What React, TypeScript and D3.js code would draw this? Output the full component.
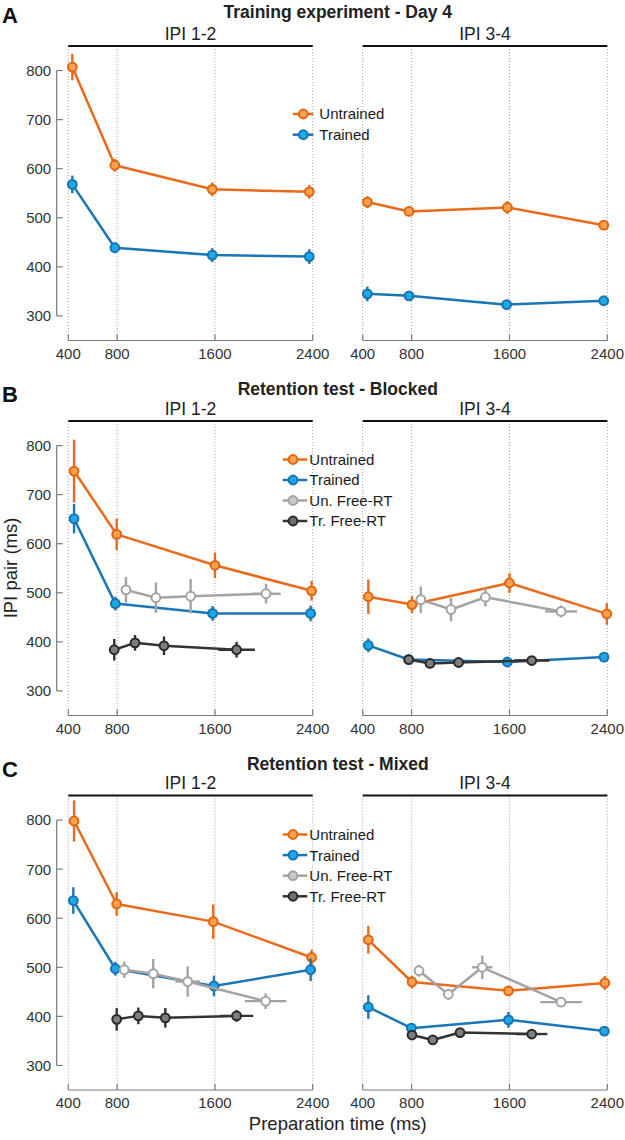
import React from 'react';
import * as d3 from 'd3';

// ---------- tick values & labels ----------
const prepTicks = [400, 800, 1600, 2400];
const ipiTicks = [300, 400, 500, 600, 700, 800];
const seriesNames = ['Untrained', 'Trained', 'Un. Free-RT', 'Tr. Free-RT'];
const panelLetters = ['A', 'B', 'C'];
const panelTitles = ['Training experiment - Day 4', 'Retention test - Blocked', 'Retention test - Mixed'];
const subLabels = ['IPI 1-2', 'IPI 3-4'];

// ---------- Panel A: Training experiment - Day 4 ----------
const aL_untrX = [433, 781, 1578, 2372];
const aL_untrY = [807, 607, 558, 553];
const aL_untrE = [27, 13, 14, 14];
const aL_trX = [433, 781, 1578, 2372];
const aL_trY = [568, 439, 424, 421];
const aL_trE = [18, 11, 14, 15];

const aR_untrX = [438, 779, 1583, 2371];
const aR_untrY = [532, 513, 521, 485];
const aR_untrE = [12, 8, 13, 7];
const aR_trX = [438, 779, 1577, 2371];
const aR_trY = [345, 341, 323, 331];
const aR_trE = [15, 8, 6, 8];

// ---------- Panel B: Retention test - Blocked ----------
const bL_untrX = [447, 796, 1600, 2391];
const bL_untrY = [748, 619, 556, 504];
const bL_untrE = [64, 32, 26, 20];
const bL_trX = [447, 785, 1581, 2383];
const bL_trY = [651, 478, 458, 458];
const bL_trE = [30, 14, 15, 16];
const bL_unFreeX = [872, 1117, 1401, 2018];
const bL_unFreeY = [506, 490, 493, 498];
const bL_unFreeE = [26, 31, 35, 20];
const bL_unFreeXE = [0, 0, 0, 120];
const bL_trFreeX = [776, 946, 1183, 1777];
const bL_trFreeY = [384, 398, 392, 384];
const bL_trFreeE = [22, 16, 19, 16];
const bL_trFreeXE = [0, 0, 0, 150];

const bR_untrX = [446, 803, 1600, 2396];
const bR_untrY = [492, 476, 520, 457];
const bR_untrE = [35, 17, 20, 22];
const bR_trX = [446, 776, 1583, 2373];
const bR_trY = [393, 364, 359, 369];
const bR_trE = [14, 8, 8, 8];
const bR_unFreeX = [875, 1122, 1403, 2022];
const bR_unFreeY = [486, 466, 491, 462];
const bR_unFreeE = [27, 24, 19, 12];
const bR_unFreeXE = [0, 0, 0, 130];
const bR_trFreeX = [776, 950, 1184, 1782];
const bR_trFreeY = [364, 356, 358, 362];
const bR_trFreeE = [8, 8, 8, 8];
const bR_trFreeXE = [0, 0, 0, 144];

// ---------- Panel C: Retention test - Mixed ----------
const cL_untrX = [447, 796, 1586, 2391];
const cL_untrY = [798, 629, 593, 520];
const cL_untrE = [42, 24, 35, 16];
const cL_trX = [441, 785, 1592, 2383];
const cL_trY = [636, 497, 462, 495];
const cL_trE = [27, 14, 21, 23];
const cL_unFreeX = [858, 1095, 1377, 2015];
const cL_unFreeY = [495, 487, 471, 431];
const cL_unFreeE = [17, 30, 31, 16];
const cL_unFreeXE = [0, 0, 100, 170];
const cL_trFreeX = [796, 973, 1194, 1777];
const cL_trFreeY = [394, 401, 397, 401];
const cL_trFreeE = [23, 17, 20, 12];
const cL_trFreeXE = [0, 0, 0, 136];

const cR_untrX = [446, 803, 1592, 2380];
const cR_untrY = [556, 470, 452, 468];
const cR_untrE = [28, 13, 10, 14];
const cR_trX = [446, 798, 1592, 2376];
const cR_trY = [419, 376, 393, 370];
const cR_trE = [24, 8, 16, 6];
const cR_unFreeX = [860, 1100, 1378, 2022];
const cR_unFreeY = [493, 445, 500, 429];
const cR_unFreeE = [12, 11, 24, 10];
const cR_unFreeXE = [0, 0, 83, 170];
const cR_trFreeX = [803, 973, 1196, 1782];
const cR_trFreeY = [362, 352, 367, 364];
const cR_trFreeE = [6, 6, 6, 6];
const cR_trFreeXE = [0, 0, 0, 128];

// ---------- styles ----------
type Style = { line: string; stroke: string; fill: string };
const styles: Style[] = [
  { line: '#E96A1C', stroke: '#E5640F', fill: '#F7A24E' },
  { line: '#1C76B6', stroke: '#1A72B3', fill: '#1AAAE8' },
  { line: '#A3A3A3', stroke: '#A3A3A3', fill: '#FFFFFF' },
  { line: '#333333', stroke: '#2A2A2A', fill: '#7E7E7E' },
];
const legendFills = ['#F7A24E', '#1AAAE8', '#C8C8C8', '#6E6E6E'];

type Series = { k: number; x: number[]; y: number[]; e: number[]; xe?: number[] };

const zero = [0, 0, 0, 0];

const panelData: Series[][][] = [
  [
    [
      { k: 0, x: aL_untrX, y: aL_untrY, e: aL_untrE },
      { k: 1, x: aL_trX, y: aL_trY, e: aL_trE },
    ],
    [
      { k: 0, x: aR_untrX, y: aR_untrY, e: aR_untrE },
      { k: 1, x: aR_trX, y: aR_trY, e: aR_trE },
    ],
  ],
  [
    [
      { k: 0, x: bL_untrX, y: bL_untrY, e: bL_untrE },
      { k: 1, x: bL_trX, y: bL_trY, e: bL_trE },
      { k: 2, x: bL_unFreeX, y: bL_unFreeY, e: bL_unFreeE, xe: bL_unFreeXE },
      { k: 3, x: bL_trFreeX, y: bL_trFreeY, e: bL_trFreeE, xe: bL_trFreeXE },
    ],
    [
      { k: 0, x: bR_untrX, y: bR_untrY, e: bR_untrE },
      { k: 1, x: bR_trX, y: bR_trY, e: bR_trE },
      { k: 2, x: bR_unFreeX, y: bR_unFreeY, e: bR_unFreeE, xe: bR_unFreeXE },
      { k: 3, x: bR_trFreeX, y: bR_trFreeY, e: bR_trFreeE, xe: bR_trFreeXE },
    ],
  ],
  [
    [
      { k: 0, x: cL_untrX, y: cL_untrY, e: cL_untrE },
      { k: 1, x: cL_trX, y: cL_trY, e: cL_trE },
      { k: 2, x: cL_unFreeX, y: cL_unFreeY, e: cL_unFreeE, xe: cL_unFreeXE },
      { k: 3, x: cL_trFreeX, y: cL_trFreeY, e: cL_trFreeE, xe: cL_trFreeXE },
    ],
    [
      { k: 0, x: cR_untrX, y: cR_untrY, e: cR_untrE },
      { k: 1, x: cR_trX, y: cR_trY, e: cR_trE },
      { k: 2, x: cR_unFreeX, y: cR_unFreeY, e: cR_unFreeE, xe: cR_unFreeXE },
      { k: 3, x: cR_trFreeX, y: cR_trFreeY, e: cR_trFreeE, xe: cR_trFreeXE },
    ],
  ],
];

// ---------- layout ----------
const W = 625;
const H = 1140;
const FONT = '"Liberation Sans", Arial, Helvetica, sans-serif';
const panelTops = [46, 421, 795.5];
const plotH = 294.5;
const titleBaselines = [17.5, 395, 770];
const letterBaselines = [23, 401.5, 776.5];
const subRanges: [number, number][] = [
  [68.3, 312.7],
  [362.7, 607.3],
];
const yAxisX = 56.7;
const legendLayout = [
  { lineX0: 292.7, lineX1: 313.3, cx: 303.3, textX: 319.3, y0: 114, dy: 20.7 },
  { lineX0: 282.7, lineX1: 307.3, cx: 293, textX: 309.3, y0: 459.5, dy: 20.5 },
  { lineX0: 282.7, lineX1: 307.3, cx: 293, textX: 309.3, y0: 834.5, dy: 20.6 },
];

const AXIS = '#7a7a7a';
const TXT = '#333333';

function SubPanel({ p, s }: { p: number; s: number }) {
  const top = panelTops[p];
  const x = d3.scaleLinear().domain([400, 2400]).range(subRanges[s]);
  const y = d3.scaleLinear().domain([250, 850]).range([top + plotH, top]);
  const axisY = y(250);
  const line = d3
    .line<[number, number]>()
    .x((d) => x(d[0]))
    .y((d) => y(d[1]));
  const series = panelData[p][s];
  return (
    <g>
      {/* dotted grid */}
      {prepTicks.map((t) => (
        <line
          key={'g' + t}
          x1={x(t)}
          x2={x(t)}
          y1={top}
          y2={axisY}
          stroke="#8c8c8c"
          strokeWidth={0.8}
          strokeDasharray="1,2"
        />
      ))}
      {/* header bar */}
      <line x1={x(400)} x2={x(2400)} y1={top} y2={top} stroke="#111" strokeWidth={2} />
      <text
        x={(x(400) + x(2400)) / 2}
        y={top - 6.3}
        textAnchor="middle"
        fontSize={17.5}
        fill="#222"
        fontFamily={FONT}
      >
        {subLabels[s]}
      </text>
      {/* x axis */}
      <line x1={x(400)} x2={x(2400)} y1={axisY} y2={axisY} stroke={AXIS} strokeWidth={1.2} />
      {prepTicks.map((t) => (
        <g key={'t' + t}>
          <line x1={x(t)} x2={x(t)} y1={axisY} y2={axisY - 6} stroke={AXIS} strokeWidth={1.2} />
          <text
            x={x(t)}
            y={axisY + 18}
            textAnchor="middle"
            fontSize={15}
            fill={TXT}
            fontFamily={FONT}
          >
            {t}
          </text>
        </g>
      ))}
      {/* y axis, only on left sub-panel */}
      {s === 0 && (
        <g>
          <line x1={yAxisX} x2={yAxisX} y1={y(300)} y2={y(800)} stroke={AXIS} strokeWidth={1.2} />
          {ipiTicks.map((t) => (
            <g key={'y' + t}>
              <line x1={yAxisX} x2={yAxisX + 6} y1={y(t)} y2={y(t)} stroke={AXIS} strokeWidth={1.2} />
              <text
                x={yAxisX - 5.5}
                y={y(t)}
                dy="0.36em"
                textAnchor="end"
                fontSize={15}
                fill={TXT}
                fontFamily={FONT}
              >
                {t}
              </text>
            </g>
          ))}
        </g>
      )}
      {/* series */}
      {series.map((sr) => {
        const st = styles[sr.k];
        const pts = sr.x.map((v, i) => [v, sr.y[i]] as [number, number]);
        const xe = sr.xe || zero;
        return (
          <g key={'s' + sr.k}>
            {pts.map((d, i) => (
              <g key={'e' + i}>
                <line
                  x1={x(d[0])}
                  x2={x(d[0])}
                  y1={y(d[1] - sr.e[i])}
                  y2={y(d[1] + sr.e[i])}
                  stroke={st.line}
                  strokeWidth={2.4}
                />
                {xe[i] > 0 && (
                  <line
                    x1={x(d[0] - xe[i])}
                    x2={x(d[0] + xe[i])}
                    y1={y(d[1])}
                    y2={y(d[1])}
                    stroke={st.line}
                    strokeWidth={2.4}
                  />
                )}
              </g>
            ))}
            <path d={line(pts) || ''} fill="none" stroke={st.line} strokeWidth={2.5} strokeLinejoin="round" />
            {pts.map((d, i) => (
              <circle
                key={'c' + i}
                cx={x(d[0])}
                cy={y(d[1])}
                r={4.4}
                fill={st.fill}
                stroke={st.stroke}
                strokeWidth={2}
              />
            ))}
          </g>
        );
      })}
    </g>
  );
}

function Legend({ p }: { p: number }) {
  const L = legendLayout[p];
  const n = panelData[p][0].length;
  return (
    <g>
      {seriesNames.slice(0, n).map((name, i) => {
        const yy = L.y0 + i * L.dy;
        const st = styles[i];
        return (
          <g key={name}>
            <line x1={L.lineX0} x2={L.lineX1} y1={yy} y2={yy} stroke={st.line} strokeWidth={2.5} />
            <circle cx={L.cx} cy={yy} r={4.4} fill={legendFills[i]} stroke={st.stroke} strokeWidth={2} />
            <text x={L.textX} y={yy} dy="0.36em" fontSize={15} fill="#1a1a1a" fontFamily={FONT}>
              {name}
            </text>
          </g>
        );
      })}
    </g>
  );
}

export default function App() {
  const titleX = (subRanges[0][0] + subRanges[1][1]) / 2;
  return (
    <svg
      width={W}
      height={H}
      viewBox={`0 0 ${W} ${H}`}
      style={{ position: 'absolute', left: 0, top: 0, background: '#fff' }}
      fontFamily={FONT}
    >
      <rect x={0} y={0} width={W} height={H} fill="#fff" />
      {panelLetters.map((L, p) => (
        <g key={L}>
          <text x={2} y={letterBaselines[p]} fontSize={22} fontWeight="bold" fill="#111" fontFamily={FONT}>
            {L}
          </text>
          <text
            x={titleX}
            y={titleBaselines[p]}
            textAnchor="middle"
            fontSize={17.5}
            fontWeight="bold"
            fill="#222"
            fontFamily={FONT}
          >
            {panelTitles[p]}
          </text>
          <SubPanel p={p} s={0} />
          <SubPanel p={p} s={1} />
          <Legend p={p} />
        </g>
      ))}
      <text
        transform={`translate(17,568) rotate(-90)`}
        textAnchor="middle"
        fontSize={18.5}
        fill="#222"
        fontFamily={FONT}
      >
        IPI pair (ms)
      </text>
      <text x={titleX} y={1130} textAnchor="middle" fontSize={18.5} fill="#222" fontFamily={FONT}>
        Preparation time (ms)
      </text>
    </svg>
  );
}
